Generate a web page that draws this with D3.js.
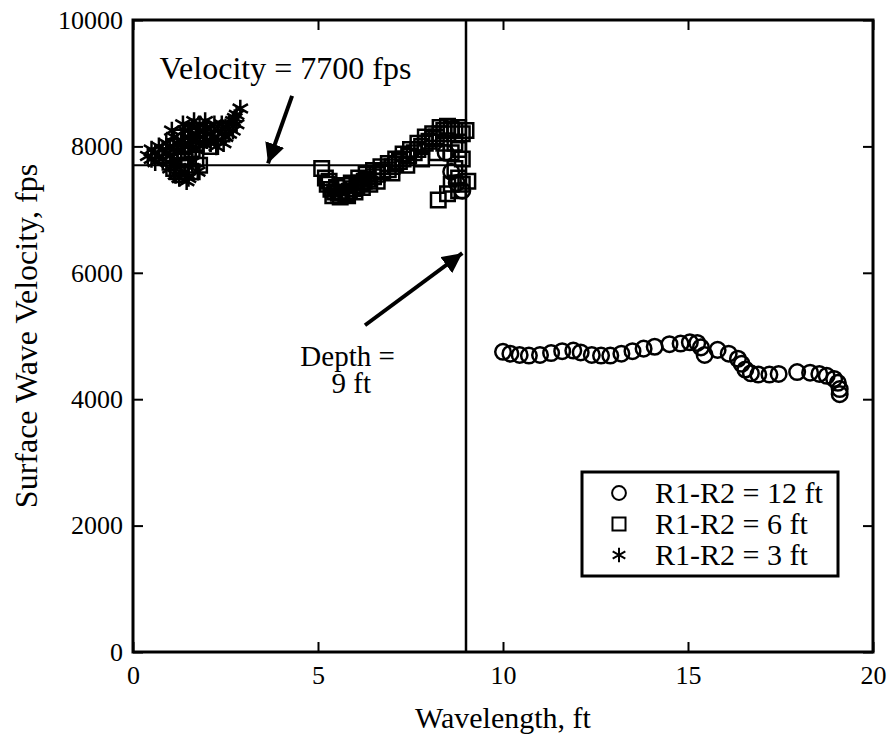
<!DOCTYPE html>
<html>
<head>
<meta charset="utf-8">
<script src="https://cdn.jsdelivr.net/npm/d3@7"></script>
<style>
  body { margin: 0; background: #fff; }
  text { font-family: 'Liberation Serif', 'DejaVu Serif', serif; }
</style>
</head>
<body>
<svg id="chart" width="895" height="743"></svg>
<script>
// R1-R2 = 12 ft (circles): [wavelength ft, velocity fps]
const spacing12 = [
  [8.45, 7900], [8.6, 7600], [8.75, 7420], [8.9, 7300],
  [10.0, 4750], [10.2, 4720], [10.45, 4700], [10.7, 4690], [11.0, 4700],
  [11.3, 4730], [11.6, 4760], [11.9, 4770], [12.1, 4740], [12.4, 4700],
  [12.65, 4690], [12.9, 4690], [13.2, 4720], [13.5, 4760], [13.8, 4800],
  [14.1, 4830], [14.5, 4870], [14.8, 4880], [15.05, 4900], [15.25, 4890],
  [15.35, 4820], [15.45, 4700], [15.8, 4780], [16.1, 4720], [16.35, 4640],
  [16.45, 4560], [16.55, 4470], [16.7, 4410], [16.9, 4390], [17.2, 4390],
  [17.45, 4400], [17.95, 4430], [18.3, 4420], [18.55, 4400], [18.75, 4370],
  [18.95, 4320], [19.05, 4260], [19.1, 4160], [19.1, 4080]
];

// R1-R2 = 6 ft (squares)
const spacing6 = [
  [0.9, 7850], [1.0, 7750], [1.1, 7650], [1.2, 7600], [1.3, 7700], [1.2, 7900],
  [1.4, 7800], [1.4, 8000], [1.5, 7900], [1.6, 7950], [1.7, 8050], [1.8, 8100],
  [1.9, 8150], [2.0, 8200], [1.5, 7700], [1.7, 7800], [1.3, 7550], [1.6, 7600],
  [1.8, 7700], [1.1, 8000], [1.3, 8150], [1.55, 8250], [1.75, 8250], [2.1, 8000],
  [5.1, 7650], [5.2, 7500], [5.25, 7400], [5.35, 7320], [5.45, 7280],
  [5.55, 7260], [5.65, 7270], [5.75, 7250], [5.85, 7290], [5.95, 7330],
  [6.05, 7380], [6.15, 7420], [6.25, 7450], [6.35, 7480], [6.5, 7520],
  [6.6, 7560], [6.75, 7600], [6.9, 7630], [7.0, 7680], [7.1, 7720],
  [7.2, 7760], [7.3, 7800], [7.45, 7850], [7.6, 7900], [7.7, 7950],
  [7.8, 8000], [7.9, 8050], [8.0, 8080], [8.1, 8120], [8.2, 8150],
  [8.3, 8200], [8.4, 8250], [8.5, 8200], [8.6, 8280], [8.7, 8250],
  [8.8, 8300], [8.9, 8200], [9.0, 8250], [8.7, 8050], [8.8, 7950],
  [8.9, 7800], [8.7, 7650], [8.8, 7500], [8.6, 7400], [8.9, 7400],
  [9.05, 7450], [8.8, 7300], [8.5, 7250], [8.25, 7150],
  [5.3, 7450], [5.5, 7350], [5.7, 7380], [5.9, 7420], [6.1, 7500],
  [6.3, 7560], [6.5, 7620], [6.7, 7680], [6.9, 7730], [7.1, 7800],
  [7.3, 7880], [7.5, 7950], [7.7, 8050], [7.9, 8150], [8.1, 8200],
  [8.3, 8300], [8.5, 8320], [6.2, 7350], [6.6, 7450], [7.0, 7580],
  [7.4, 7700], [7.8, 7800], [8.2, 7900], [8.4, 8050], [8.6, 7900],
  [5.4, 7220], [5.6, 7200], [5.8, 7220], [6.0, 7280], [6.4, 7400]
];

// R1-R2 = 3 ft (asterisks)
const spacing3 = [
  [0.4, 7850], [0.5, 7800], [0.6, 7900], [0.7, 7830], [0.8, 7950],
  [0.9, 7900], [1.0, 8000], [1.1, 7950], [1.2, 8050], [1.3, 8100],
  [1.4, 8000], [1.5, 8150], [1.6, 8100], [1.7, 8200], [1.8, 8150],
  [1.9, 8250], [2.0, 8100], [2.1, 8200], [2.2, 8150], [2.3, 8250],
  [2.4, 8200], [2.5, 8300], [2.6, 8350], [2.7, 8400], [2.75, 8450],
  [2.8, 8500], [2.9, 8600], [0.5, 7950], [0.6, 7750], [0.8, 7800],
  [0.9, 8050], [1.0, 7850], [1.1, 8150], [1.2, 7750], [1.3, 7950],
  [1.4, 8250], [1.5, 8000], [1.6, 8300], [1.7, 7950], [1.8, 8350],
  [1.9, 8050], [2.0, 8300], [2.1, 8050], [2.2, 8350], [2.3, 8100],
  [2.4, 8350], [2.5, 8150], [2.6, 8200], [2.7, 8250], [2.8, 8350],
  [1.0, 7650], [1.25, 7500], [1.4, 7600], [1.6, 7750], [1.5, 7500],
  [0.7, 8000], [1.05, 8250], [1.35, 8350], [1.65, 8400], [1.95, 8400],
  [2.25, 8000], [2.45, 8050], [1.15, 7550], [1.45, 7450], [1.75, 7600]
];

const xTicks = [0, 5, 10, 15, 20];
const yTicks = [0, 2000, 4000, 6000, 8000, 10000];
const legendLabels = ['R1-R2 = 12 ft', 'R1-R2 = 6 ft', 'R1-R2 = 3 ft'];
const refVelocity = 7700;
const refDepth = 9;

const margin = { top: 20, right: 22, bottom: 91, left: 133 };
const width = 895, height = 743;
const innerWidth = width - margin.left - margin.right;
const innerHeight = height - margin.top - margin.bottom;

const svg = d3.select('#chart');
const g = svg.append('g').attr('transform', `translate(${margin.left},${margin.top})`);

const x = d3.scaleLinear().domain([0, 20]).range([0, innerWidth]);
const y = d3.scaleLinear().domain([0, 10000]).range([innerHeight, 0]);

// Axes: ticks point inward on all four sides
const tickLen = 10;
g.append('g')
  .attr('transform', `translate(0,${innerHeight})`)
  .call(d3.axisBottom(x).tickValues(xTicks).tickSizeInner(-tickLen).tickSizeOuter(0).tickPadding(14))
  .call(a => a.select('.domain').remove());

g.append('g')
  .call(d3.axisLeft(y).tickValues(yTicks).tickFormat(d3.format('d'))
    .tickSizeInner(-tickLen).tickSizeOuter(0).tickPadding(10))
  .call(a => a.select('.domain').remove());

g.append('g')
  .call(d3.axisTop(x).tickValues(xTicks).tickSizeInner(-tickLen).tickSizeOuter(0).tickFormat(''))
  .call(a => a.select('.domain').remove());

g.append('g')
  .attr('transform', `translate(${innerWidth},0)`)
  .call(d3.axisRight(y).tickValues(yTicks).tickSizeInner(-tickLen).tickSizeOuter(0).tickFormat(''))
  .call(a => a.select('.domain').remove());

g.selectAll('g').attr('font-family', null).attr('font-size', null);
g.selectAll('.tick line').attr('stroke', '#000').attr('stroke-width', 2);
g.selectAll('.tick text').style('font-size', '26px').attr('fill', '#000');

// Frame
g.append('rect')
  .attr('width', innerWidth).attr('height', innerHeight)
  .attr('fill', 'none').attr('stroke', '#000').attr('stroke-width', 3);

// Axis labels
svg.append('text')
  .attr('x', margin.left + innerWidth / 2).attr('y', 728)
  .attr('text-anchor', 'middle').style('font-size', '30px')
  .text('Wavelength, ft');

svg.append('text')
  .attr('transform', `translate(37,${margin.top + innerHeight / 2}) rotate(-90)`)
  .attr('text-anchor', 'middle').style('font-size', '32px')
  .text('Surface Wave Velocity, fps');

// Reference lines
g.append('line')
  .attr('x1', x(0)).attr('x2', x(refDepth))
  .attr('y1', y(refVelocity)).attr('y2', y(refVelocity))
  .attr('stroke', '#000').attr('stroke-width', 2);

g.append('line')
  .attr('x1', x(refDepth)).attr('x2', x(refDepth))
  .attr('y1', 0).attr('y2', innerHeight)
  .attr('stroke', '#000').attr('stroke-width', 2.5);

// Markers
const sym = (type, size) => d3.symbol().type(type).size(size);
const series = [
  { data: spacing12, path: sym(d3.symbolCircle, 190) },
  { data: spacing6, path: sym(d3.symbolSquare, 210) },
  { data: spacing3, path: sym(d3.symbolAsterisk, 220) }
];

series.forEach(s => {
  g.append('g').selectAll('path')
    .data(s.data)
    .enter()
    .append('path')
    .attr('transform', d => `translate(${x(d[0])},${y(d[1])})`)
    .attr('d', s.path())
    .attr('fill', 'none')
    .attr('stroke', '#000')
    .attr('stroke-width', 2.5);
});

// Annotations with arrows
svg.append('defs').append('marker')
  .attr('id', 'head')
  .attr('viewBox', '0 0 10 10')
  .attr('refX', 10).attr('refY', 5)
  .attr('markerWidth', 5).attr('markerHeight', 5)
  .attr('markerUnits', 'strokeWidth')
  .attr('orient', 'auto')
  .append('path').attr('d', 'M0,0L10,5L0,10Z').attr('fill', '#000');

g.append('text')
  .attr('x', x(4.12)).attr('y', y(8800) - 17)
  .attr('text-anchor', 'middle').style('font-size', '32px')
  .text('Velocity = 7700 fps');

g.append('line')
  .attr('x1', x(4.3)).attr('y1', y(8800))
  .attr('x2', x(3.65)).attr('y2', y(refVelocity) - 2)
  .attr('stroke', '#000').attr('stroke-width', 4)
  .attr('marker-end', 'url(#head)');

g.append('line')
  .attr('x1', x(6.27)).attr('y1', y(5170))
  .attr('x2', x(8.9)).attr('y2', y(6310))
  .attr('stroke', '#000').attr('stroke-width', 4)
  .attr('marker-end', 'url(#head)');

g.append('text')
  .attr('x', x(5.8)).attr('y', y(4530))
  .attr('text-anchor', 'middle').style('font-size', '29px')
  .text('Depth =');

g.append('text')
  .attr('x', x(5.9)).attr('y', y(4100))
  .attr('text-anchor', 'middle').style('font-size', '29px')
  .text('9 ft');

// Legend
const legend = svg.append('g').attr('transform', 'translate(582,472)');
legend.append('rect')
  .attr('width', 256).attr('height', 104)
  .attr('fill', '#fff').attr('stroke', '#000').attr('stroke-width', 3);

legendLabels.forEach((label, i) => {
  const row = legend.append('g').attr('transform', `translate(0,${21 + i * 31})`);
  row.append('path')
    .attr('transform', 'translate(37,0)')
    .attr('d', series[i].path.size(i === 1 ? 170 : 150)())
    .attr('fill', 'none').attr('stroke', '#000').attr('stroke-width', 2);
  row.append('text')
    .attr('x', 73).attr('y', 10)
    .style('font-size', '30px')
    .text(label);
});
</script>
</body>
</html>
